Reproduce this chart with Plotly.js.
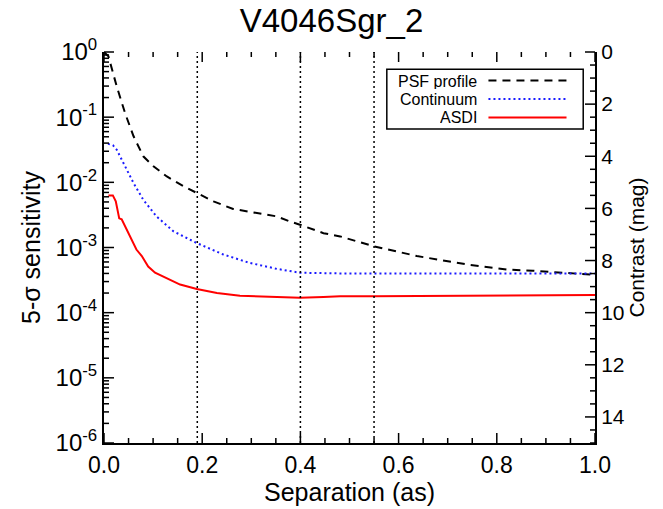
<!DOCTYPE html>
<html>
<head>
<meta charset="utf-8">
<script src="https://cdn.plot.ly/plotly-3.0.1.min.js"></script>
<style>html,body{margin:0;padding:0;background:#fff;}#chart{width:663px;height:509px;}</style>
</head>
<body>
<div id="chart"></div>
<script>
// ---- data ----
var psfSep = [0.0, 0.009, 0.026, 0.043, 0.060, 0.080, 0.100, 0.128, 0.162, 0.189, 0.223, 0.263, 0.311, 0.352, 0.379, 0.399, 0.447, 0.481, 0.548, 0.637, 0.739, 0.820, 0.874, 0.914, 0.983, 1.0];
var psfVal = [1.0, 0.857, 0.295, 0.115, 0.0513, 0.0251, 0.0178, 0.0123, 0.0087, 0.0069, 0.0051, 0.0039, 0.0034, 0.0030, 0.0025, 0.00224, 0.00166, 0.00148, 0.00105, 0.00074, 0.00055, 0.00046, 0.00044, 0.00042, 0.00038, 0.00038];

var contSep = [0.008, 0.018, 0.026, 0.039, 0.060, 0.080, 0.107, 0.141, 0.189, 0.243, 0.297, 0.352, 0.399, 0.481, 0.600, 0.700, 0.800, 0.900, 1.0];
var contVal = [0.0389, 0.0372, 0.0316, 0.0200, 0.0098, 0.0054, 0.0030, 0.00178, 0.00117, 0.00078, 0.00058, 0.00047, 0.00041, 0.00040, 0.00040, 0.00040, 0.00040, 0.00040, 0.00040];

var asdiSep = [0.009, 0.018, 0.024, 0.031, 0.036, 0.046, 0.056, 0.066, 0.077, 0.090, 0.104, 0.128, 0.155, 0.189, 0.230, 0.277, 0.324, 0.358, 0.399, 0.447, 0.481, 0.548, 0.739, 1.0];
var asdiVal = [0.0063, 0.0063, 0.0051, 0.0028, 0.0027, 0.00186, 0.00132, 0.00093, 0.00074, 0.00051, 0.00041, 0.00034, 0.00027, 0.00023, 0.00020, 0.000182, 0.000178, 0.000174, 0.000170, 0.000174, 0.000178, 0.000178, 0.000182, 0.000186];

var markerSeps = [0.19, 0.40, 0.55];
var seriesNames = ['PSF profile', 'Continuum', 'ASDI'];
var yTickVals = [1, 0.1, 0.01, 0.001, 0.0001, 0.00001, 0.000001];
var yTickText = ['10<sup>0</sup>', '10<sup>-1</sup>', '10<sup>-2</sup>', '10<sup>-3</sup>', '10<sup>-4</sup>', '10<sup>-5</sup>', '10<sup>-6</sup>'];
var xTickVals = [0.0, 0.2, 0.4, 0.6, 0.8, 1.0];
var xTickText = ['0.0', '0.2', '0.4', '0.6', '0.8', '1.0'];
var magTickVals = [0, 2, 4, 6, 8, 10, 12, 14];

// ---- styling / geometry ----
var FONT = 'Liberation Sans, Arial, Helvetica, sans-serif';
var PLOT_W = 663 - 104 - 68, PLOT_H = 509 - 52 - 66;
var styles = [
  {color: '#000000', width: 2, dash: '8px,6px'},
  {color: '#1a1aff', width: 2, dash: '2px,3px'},
  {color: '#ff0000', width: 2, dash: 'solid'}
];

var traces = [
  {x: psfSep, y: psfVal, mode: 'lines', line: styles[0], name: seriesNames[0], showlegend: false, hoverinfo: 'skip'},
  {x: contSep, y: contVal, mode: 'lines', line: styles[1], name: seriesNames[1], showlegend: false, hoverinfo: 'skip'},
  {x: asdiSep, y: asdiVal, mode: 'lines', line: styles[2], name: seriesNames[2], showlegend: false, hoverinfo: 'skip'},
  {x: [], y: [], yaxis: 'y2', mode: 'lines', showlegend: false, hoverinfo: 'skip'}
];

var shapes = markerSeps.map(function (s) {
  return {type: 'line', xref: 'x', yref: 'paper', x0: s, x1: s, y0: 0, y1: 1,
          line: {color: '#000', width: 1.5, dash: '2px,3px'}};
});

// ---- tick marks (drawn as shapes on the axis frame) ----
var TICK = {color: '#000', width: 1.5};
function addXTick(v, len) {
  var h = len / PLOT_H;
  shapes.push({type: 'line', xref: 'x', yref: 'paper', x0: v, x1: v, y0: 0, y1: h, line: TICK, layer: 'above'});
  shapes.push({type: 'line', xref: 'x', yref: 'paper', x0: v, x1: v, y0: 1 - h, y1: 1, line: TICK, layer: 'above'});
}
for (var k = 0; k <= 20; k++) {
  addXTick(k * 0.05, (k % 4 === 0) ? 10 : 5);
}
function addYTick(p, len, right) {
  var w = len / PLOT_W;
  shapes.push({type: 'line', xref: 'paper', yref: 'paper',
               x0: right ? 1 - w : 0, x1: right ? 1 : w, y0: p, y1: p, line: TICK, layer: 'above'});
}
for (var e = -6; e <= 0; e++) {
  addYTick((e + 6) / 6, 10, false);
  if (e < 0) for (var m = 2; m <= 9; m++) addYTick((e + Math.log10(m) + 6) / 6, 5, false);
}
for (var q = 0; q <= 30; q++) {
  addYTick(1 - (q * 0.5) / 15, (q % 4 === 0) ? 10 : 5, true);
}

// ---- legend (text right-aligned, line samples on the right) ----
shapes.push({type: 'rect', xref: 'paper', yref: 'paper', x0: 0.576, x1: 0.976, y0: 0.803, y1: 0.956,
             line: {color: '#000', width: 1.5}, fillcolor: '#fff', layer: 'above'});
var rowY = [0.927, 0.880, 0.8325];
var annotations = [];
for (var i = 0; i < 3; i++) {
  shapes.push({type: 'line', xref: 'paper', yref: 'paper', x0: 0.783, x1: 0.942, y0: rowY[i], y1: rowY[i],
               line: styles[i], layer: 'above'});
  annotations.push({xref: 'paper', yref: 'paper', x: 0.762, y: rowY[i], xanchor: 'right', yanchor: 'middle',
                    text: seriesNames[i], showarrow: false, height: 16, borderpad: 0,
                    font: {family: FONT, size: 16, color: '#000'}});
}

var axisCommon = {
  showline: true, linecolor: '#000', linewidth: 2, showgrid: false, zeroline: false,
  ticks: 'inside', ticklen: 10, tickwidth: 1, tickcolor: 'rgba(0,0,0,0)'
};

var layout = {
  width: 663, height: 509,
  margin: {l: 104, r: 68, t: 52, b: 66},
  paper_bgcolor: '#fff', plot_bgcolor: '#fff',
  font: {family: FONT, color: '#000'},
  title: {text: 'V4046Sgr_2', x: 0.5, xanchor: 'center', y: 0.96, yref: 'container', yanchor: 'middle',
          font: {family: FONT, size: 33, color: '#000'}},
  xaxis: Object.assign({}, axisCommon, {
    range: [0, 1], tickmode: 'array', tickvals: xTickVals, ticktext: xTickText,
    tickfont: {family: FONT, size: 23},
    title: {text: 'Separation (as)', font: {family: FONT, size: 25}, standoff: 4}
  }),
  yaxis: Object.assign({}, axisCommon, {
    type: 'log', range: [-6, 0], tickmode: 'array', tickvals: yTickVals, ticktext: yTickText,
    tickfont: {family: FONT, size: 24},
    title: {text: '5-σ sensitivity', font: {family: FONT, size: 25}, standoff: 8}
  }),
  yaxis2: Object.assign({}, axisCommon, {
    overlaying: 'y', side: 'right', anchor: 'x', range: [15, 0], tickmode: 'array', tickvals: magTickVals,
    tickfont: {family: FONT, size: 21},
    title: {text: 'Contrast (mag)', font: {family: FONT, size: 21}, standoff: 1}
  }),
  shapes: shapes,
  annotations: annotations,
  showlegend: false
};

Plotly.newPlot('chart', traces, layout, {displayModeBar: false, staticPlot: true});
</script>
</body>
</html>
